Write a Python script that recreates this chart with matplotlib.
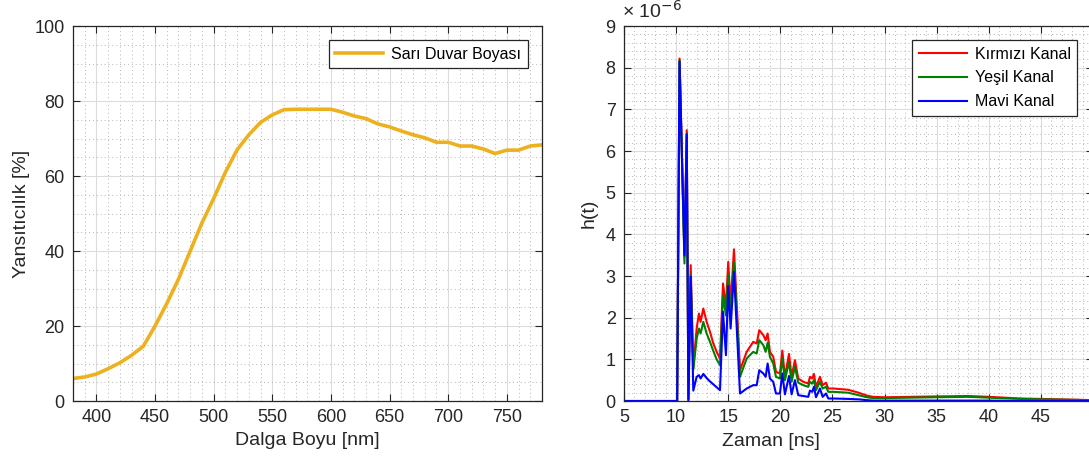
import numpy as np
import matplotlib
matplotlib.use("Agg")
import matplotlib.pyplot as plt
from matplotlib.ticker import MultipleLocator

# reflectance of yellow wall paint
wavelength_nm = np.arange(380, 781, 10)
reflectance = [6.0, 6.4, 7.2, 8.6, 10.2, 12.2, 14.6, 20.0, 26.0, 32.5,
               40.0, 47.5, 54.0, 61.0, 67.0, 71.0, 74.3, 76.3, 77.7, 77.8,
               77.8, 77.8, 77.8, 77.0, 76.0, 75.3, 73.9, 73.1, 72.0, 71.0,
               70.2, 69.0, 69.0, 68.0, 68.0, 67.2, 66.0, 66.9, 66.9, 68.0,
               68.3]

# channel impulse responses (x 1e-6)
time_ns = [5, 10.1, 10.33, 10.8, 11.02, 11.18, 11.4, 11.65, 11.97, 12.19,
           12.35, 12.61, 12.93, 13.25, 13.57, 13.89, 14.21, 14.5, 14.78, 15.0,
           15.23, 15.55, 16.13, 16.77, 17.4, 17.73, 17.98, 18.37, 18.59, 18.78,
           19.0, 19.32, 19.58, 19.96, 20.19, 20.44, 20.83, 21.08, 21.4, 21.72,
           22.2, 22.68, 22.84, 23.06, 23.22, 23.42, 23.8, 24.06, 24.38, 24.6,
           25.08, 26.5, 27.5, 28.3, 28.9, 30, 35, 38, 40, 43, 45, 50]
h_red = [0, 0, 8.22, 3.45, 6.5, 0.05, 3.26, 0.8, 1.74, 2.1,
         1.9, 2.22, 1.9, 1.66, 1.38, 1.18, 1.02, 2.82, 2.25, 3.34,
         2.3, 3.64, 0.74, 1.18, 1.42, 1.38, 1.7, 1.58, 1.46, 1.62,
         1.18, 1.06, 0.7, 0.66, 1.21, 0.58, 1.13, 0.58, 0.98, 0.54,
         0.46, 0.42, 0.58, 0.54, 0.65, 0.34, 0.58, 0.38, 0.44, 0.3,
         0.3, 0.27, 0.2, 0.13, 0.1, 0.09, 0.11, 0.12, 0.1, 0.06, 0.05, 0.02]
h_green = [0, 0, 8.18, 3.3, 6.42, 0.04, 3.02, 0.75, 1.5, 1.74,
           1.62, 1.9, 1.62, 1.42, 1.2, 1.0, 0.86, 2.54, 2.05, 3.02,
           2.06, 3.34, 0.58, 1.02, 1.18, 1.14, 1.46, 1.34, 1.18, 1.4,
           1.06, 0.9, 0.58, 0.54, 1.02, 0.5, 0.94, 0.46, 0.82, 0.44,
           0.38, 0.34, 0.46, 0.42, 0.5, 0.26, 0.46, 0.3, 0.34, 0.22,
           0.22, 0.2, 0.14, 0.09, 0.07, 0.07, 0.09, 0.1, 0.08, 0.05, 0.04, 0.02]
h_blue = [0, 0, 8.15, 3.5, 6.4, 0.0, 2.98, 0.25, 0.58, 0.62,
          0.54, 0.65, 0.55, 0.47, 0.4, 0.33, 0.26, 2.14, 1.1, 2.76,
          1.74, 3.1, 0.18, 0.3, 0.38, 0.38, 0.74, 0.66, 0.58, 0.9,
          0.54, 0.46, 0.18, 0.18, 0.66, 0.16, 0.6, 0.16, 0.5, 0.14,
          0.12, 0.1, 0.25, 0.22, 0.34, 0.09, 0.3, 0.1, 0.18, 0.06,
          0.06, 0.05, 0.04, 0.02, 0.01, 0.01, 0.01, 0.01, 0.01, 0.0, 0.0, 0.0]

plt.rcParams['font.family'] = ['Liberation Sans', 'DejaVu Sans']
plt.rcParams['axes.edgecolor'] = '#262626'
plt.rcParams['xtick.color'] = '#262626'
plt.rcParams['ytick.color'] = '#262626'


def style_axes(ax):
    ax.tick_params(which='major', direction='in', length=5, width=0.8,
                   top=True, right=True, labelsize=13, pad=6)
    ax.tick_params(which='minor', length=0, top=True, right=True)
    ax.grid(which='major', color='#dcdcdc', linewidth=0.8)
    ax.grid(which='minor', color='#b4b4b4', linestyle=(0, (1, 3)), linewidth=0.7)
    ax.set_axisbelow(True)
    for s in ax.spines.values():
        s.set_linewidth(0.9)


fig = plt.figure(figsize=(10.89, 4.63), dpi=100)

# left: reflectance
ax1 = fig.add_axes([0.0670, 0.1339, 0.4307, 0.8099])
ax1.plot(wavelength_nm, reflectance, color='#EDB120', linewidth=2.6,
         label='Sarı Duvar Boyası')
ax1.set_xlim(380, 780)
ax1.set_ylim(0, 100)
ax1.xaxis.set_major_locator(MultipleLocator(50))
ax1.xaxis.set_minor_locator(MultipleLocator(10))
ax1.yaxis.set_major_locator(MultipleLocator(20))
ax1.yaxis.set_minor_locator(MultipleLocator(5))
style_axes(ax1)
ax1.set_xlabel('Dalga Boyu [nm]', fontsize=14, color='#262626', labelpad=4)
ax1.set_ylabel('Yansıtıcılık [%]', fontsize=14, color='#262626', labelpad=3)
leg1 = ax1.legend(loc='upper right', fontsize=11.5, handlelength=3.0,
                  handletextpad=0.5, fancybox=False, framealpha=1,
                  edgecolor='#262626', borderaxespad=0.9)
leg1.get_frame().set_linewidth(0.9)

# right: impulse responses
ax2 = fig.add_axes([0.5730, 0.1339, 0.4307, 0.8099])
ax2.plot(time_ns, h_red, color='#FF0000', linewidth=1.5, label='Kırmızı Kanal')
ax2.plot(time_ns, h_green, color='#008000', linewidth=1.5, label='Yeşil Kanal')
ax2.plot(time_ns, h_blue, color='#0000FF', linewidth=1.5, label='Mavi Kanal')
ax2.set_xlim(5, 50)
ax2.set_ylim(0, 9)
ax2.xaxis.set_major_locator(MultipleLocator(5))
ax2.xaxis.set_minor_locator(MultipleLocator(1))
ax2.yaxis.set_major_locator(MultipleLocator(1))
ax2.yaxis.set_minor_locator(MultipleLocator(0.2))
ax2.set_xticks(np.arange(5, 50, 5))
style_axes(ax2)
ax2.set_xlabel('Zaman [ns]', fontsize=14, color='#262626', labelpad=4)
ax2.xaxis.set_label_coords(0.313, -0.085)
ax2.set_ylabel('h(t)', fontsize=14, color='#262626', labelpad=6)
ax2.text(-0.004, 1.01, '× 10$^{-6}$', transform=ax2.transAxes, fontsize=14,
         color='#262626', ha='left', va='bottom')
leg2 = ax2.legend(loc='upper right', fontsize=11.5, handlelength=3.0,
                  handletextpad=0.5, fancybox=False, framealpha=1,
                  edgecolor='#262626', bbox_to_anchor=(0.966, 0.962),
                  borderaxespad=0.0, labelspacing=0.55)
leg2.get_frame().set_linewidth(0.9)

fig.savefig('out.png', dpi=100)
